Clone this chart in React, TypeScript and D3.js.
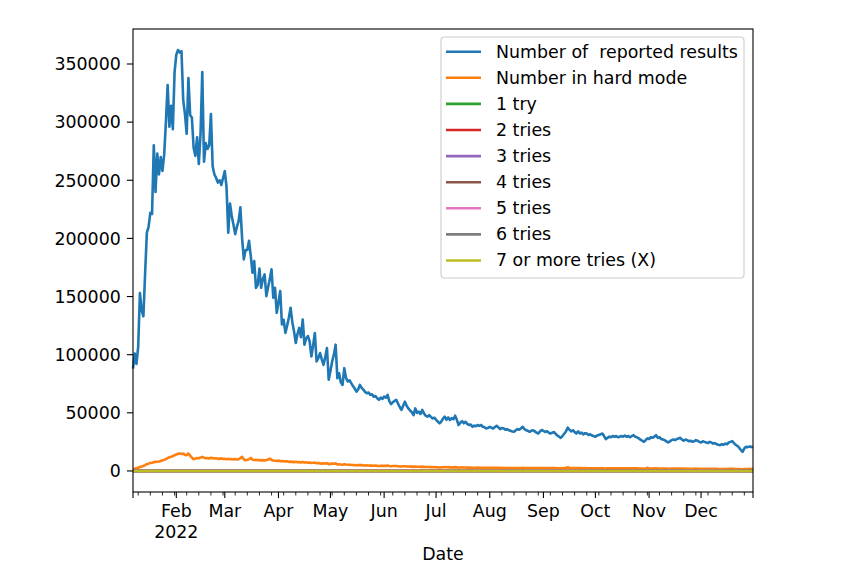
import * as d3 from "d3";
import { useEffect, useRef } from "react";

// daily series from 2022-01-07 to 2022-12-31
const firstDay = "2022-01-07";
const lastDay = "2022-12-31";

const reported = [
  88000, 101000, 92000, 107000, 153000, 138000, 133000, 170000, 205000, 210000,
  222000, 221000, 280000, 240000, 273000, 255000, 270000, 258000, 272000, 300000,
  332000, 296000, 314000, 294000, 343000, 358000, 362000, 360000, 361000, 319000,
  307000, 290000, 338000, 306000, 304000, 278000, 271000, 287000, 264000, 290000,
  343000, 266000, 282000, 277000, 280000, 307000, 262000, 255000, 252000, 248000,
  250000, 246000, 252000, 258000, 244000, 205000, 230000, 219500, 212000, 203700,
  210000, 215000, 226700, 200000, 182000, 190000, 190000, 198000, 185000, 170500,
  180600, 157500, 160000, 174000, 157500, 165000, 169000, 150400, 158000, 165000,
  173400, 149000, 157500, 136000, 145000, 154700, 126000, 130000, 118700, 125000,
  132000, 140300, 128000, 120000, 110000, 118000, 123000, 115000, 130200, 108600,
  114000, 116000, 111500, 98500, 108000, 118700, 94200, 97000, 101400, 96000,
  91300, 98000, 105700, 78400, 86000, 94200, 100000, 108600, 79800, 84000,
  76000, 74000, 88400, 80000, 76900, 78000, 75500, 73000, 71000, 68300,
  70000, 74000, 71500, 70000, 68000, 66800, 67500, 65500, 66000, 63900,
  64500, 62500, 61100, 63000, 62000, 64000, 63000, 65400, 60000, 57500,
  59000, 60200, 61100, 58000, 55000, 52500, 56000, 59600, 56000, 53800,
  52000, 50500, 48100, 53800, 50000, 51000, 49000, 52500, 49500, 47500,
  46700, 48000, 46500, 45200, 45800, 44000, 42500, 40900, 42500, 45000,
  46700, 44000, 46000, 43800, 45500, 44500, 47500, 44000, 39500, 41500,
  42800, 41000, 42300, 40500, 39500, 40000, 38000, 39000, 38500, 39500,
  38800, 39500, 38000, 37500, 36600, 37000, 38000, 37200, 36500, 37800,
  38900, 37500, 36000, 37000, 36600, 35500, 36000, 35000, 34500, 34000,
  33700, 35000, 36000, 35500, 36500, 38000, 36000, 35000, 34500, 33700,
  34500, 35000, 34000, 33000, 32200, 34000, 35200, 34500, 33500, 34200,
  33000, 32200, 32800, 33500, 32000, 30500, 29500, 28500, 30000, 32000,
  34000, 37200, 35500, 34000, 35000, 33500, 32200, 34000, 32200, 33000,
  31500, 32500, 32200, 31000, 31500, 30500, 30000, 29400, 30500, 31000,
  31500, 32200, 30000, 27400, 28500, 29500, 29000, 30000, 29500, 30000,
  29000, 29400, 30000, 29500, 30500, 29500, 30000, 29000, 30000, 30800,
  29500, 29000, 28000, 27000, 26000, 25100, 26500, 28000, 27500, 29000,
  28500, 29500, 30800, 28500, 29000, 27500, 27000, 26500, 25500, 24500,
  25500, 26500, 27000, 26500, 27500, 28000, 28500, 27000, 26000, 27000,
  26500, 25500, 26000, 25100, 25500, 26500, 26000, 25000, 24500, 25500,
  25000, 24500, 24000, 25000, 24500, 23500, 24000, 23000, 22500, 22200,
  23000, 22500, 23500, 23000, 24500, 25000, 25700, 24000, 22500, 21500,
  20000, 18000, 16400, 19500, 20700, 20500, 21000, 20700, 20400,
];

const hardMode = [
  1400, 1900, 2300, 2700, 3500, 3800, 4300, 5000, 5800, 6300,
  6800, 7000, 7600, 7800, 7900, 8200, 8600, 9200, 9500, 10200,
  11000, 11800, 12100, 12800, 13500, 14100, 14700, 15000, 14600, 15000,
  13800, 13600, 15000, 13200, 11500, 10100, 10600, 11200, 11000, 11500,
  12100, 11400, 11000, 11200, 10800, 11300, 11200, 10700, 10900, 10400,
  10600, 10800, 10300, 10500, 10100, 10400, 10000, 10300, 9900, 10200,
  9800, 10100, 11000, 12100, 10000, 9200, 9600, 10000, 11200, 9700,
  9400, 9600, 9200, 9500, 9100, 9300, 9000, 9400, 9800, 10600,
  9500, 9000, 8800, 8600, 8900, 8400, 8500, 8300, 8100, 8400,
  7800, 8000, 7800, 7600, 7900, 7500, 7600, 7300, 7700, 7200,
  7400, 7100, 7300, 6900, 7000, 7200, 6600, 6800, 6500, 6300,
  6600, 6400, 6700, 5800, 6100, 6300, 6200, 6500, 5600, 5800,
  5500, 5400, 5800, 5500, 5300, 5400, 5200, 5100, 5000, 4900,
  5000, 5100, 5000, 4800, 4700, 4800, 4700, 4600, 4700, 4500,
  4600, 4400, 4300, 4500, 4400, 4500, 4400, 4600, 4200, 4100,
  4200, 4200, 4300, 4100, 3900, 3800, 4000, 4100, 3900, 3800,
  3700, 3700, 3500, 3800, 3600, 3600, 3500, 3700, 3500, 3400,
  3400, 3400, 3300, 3200, 3300, 3200, 3100, 3000, 3100, 3200,
  3300, 3200, 3300, 3100, 3200, 3100, 3300, 3100, 2900, 3000,
  3100, 3000, 3000, 2900, 2900, 2900, 2800, 2800, 2800, 2900,
  2800, 2800, 2700, 2700, 2700, 2700, 2800, 2700, 2700, 2700,
  2800, 2700, 2600, 2700, 2600, 2600, 2600, 2500, 2500, 2500,
  2500, 2600, 2600, 2600, 2600, 2700, 2600, 2600, 2500, 2500,
  2500, 2500, 2500, 2400, 2400, 2500, 2500, 2500, 2400, 2500,
  2400, 2400, 2400, 2400, 2400, 2300, 2200, 2200, 2300, 2400,
  2500, 3200, 2600, 2500, 2500, 2400, 2400, 2500, 2400, 2400,
  2300, 2400, 2300, 2300, 2300, 2300, 2200, 2200, 2300, 2300,
  2300, 2400, 2200, 2100, 2200, 2200, 2200, 2200, 2200, 2200,
  2200, 2200, 2200, 2200, 2300, 2200, 2200, 2200, 2300, 2300,
  2200, 2200, 2100, 2100, 2000, 1900, 2000, 2700, 2100, 2100,
  2100, 2200, 2200, 2100, 2100, 2100, 2000, 2000, 2000, 1900,
  1900, 2000, 2000, 2000, 2000, 2100, 2100, 2000, 1900, 2000,
  1900, 1900, 1900, 1900, 1900, 2000, 1900, 1900, 1900, 1900,
  1900, 1900, 1800, 1900, 1800, 1800, 1800, 1800, 1700, 1700,
  1700, 1700, 1800, 1700, 1800, 1900, 1900, 1800, 1700, 1700,
  1600, 1500, 1400, 1600, 1700, 1700, 1800, 1700, 1900,
];

// the "tries" columns are percentages, they sit on the zero line
const tryDates = [
  "2022-01-07", "2022-02-01", "2022-03-01", "2022-04-01", "2022-05-01", "2022-06-01", "2022-07-01",
  "2022-08-01", "2022-09-01", "2022-10-01", "2022-11-01", "2022-12-01", "2022-12-31",
];
const try1 = [1, 1, 0, 0, 1, 0, 0, 0, 0, 0, 0, 0, 0];
const try2 = [5, 4, 3, 6, 4, 3, 5, 4, 3, 4, 5, 3, 4];
const try3 = [23, 20, 18, 25, 22, 17, 21, 24, 19, 22, 26, 20, 21];
const try4 = [39, 35, 34, 36, 38, 33, 35, 37, 34, 33, 37, 35, 36];
const try5 = [24, 25, 27, 21, 23, 28, 24, 23, 27, 25, 22, 26, 25];
const try6 = [7, 12, 14, 9, 10, 15, 12, 10, 13, 12, 8, 12, 10];
const try7 = [1, 3, 4, 2, 2, 4, 3, 2, 3, 3, 1, 3, 2];

const seriesNames = [
  "Number of  reported results",
  "Number in hard mode",
  "1 try",
  "2 tries",
  "3 tries",
  "4 tries",
  "5 tries",
  "6 tries",
  "7 or more tries (X)",
];
const colors = ["#1f77b4", "#ff7f0e", "#2ca02c", "#d62728", "#9467bd", "#8c564b", "#e377c2", "#7f7f7f", "#bcbd22"];
const yTicks = [0, 50000, 100000, 150000, 200000, 250000, 300000, 350000];

const W = 857, H = 585;
const L = 133, R = 753, T = 29, B = 492;
const FONT = "DejaVu Sans, sans-serif";
const FS = 17.4;

function App() {
  const ref = useRef<SVGSVGElement>(null);

  useEffect(() => {
    const svg = d3.select(ref.current);
    svg.selectAll("*").remove();

    const parse = d3.utcParse("%Y-%m-%d");
    const start = parse(firstDay)!;
    const end = parse(lastDay)!;
    const days = d3.utcDay.range(start, d3.utcDay.offset(end, 1));

    const daily = [reported, hardMode].map((vals) => vals.map((v, i) => ({ d: days[i], v })));
    const tryD = tryDates.map((s) => parse(s)!);
    const tries = [try1, try2, try3, try4, try5, try6, try7].map((vals) => vals.map((v, i) => ({ d: tryD[i], v })));
    const all = [...daily, ...tries];

    const allVals = all.flat().map((p) => p.v);
    const lo = d3.min(allVals)!, hi = d3.max(allVals)!;
    const pad = (hi - lo) * 0.05;

    const x = d3.scaleUtc().domain([start, end]).range([L, R]);
    const y = d3.scaleLinear().domain([lo - pad, hi + pad]).range([B, T]);

    const line = d3.line<{ d: Date; v: number }>().x((p) => x(p.d)).y((p) => y(p.v));

    const g = svg.append("g");
    all.forEach((s, i) => {
      g.append("path")
        .attr("d", line(s))
        .attr("fill", "none")
        .attr("stroke", colors[i])
        .attr("stroke-width", 2.6)
        .attr("stroke-linejoin", "round");
    });

    // spines
    svg.append("rect")
      .attr("x", L).attr("y", T).attr("width", R - L).attr("height", B - T)
      .attr("fill", "none").attr("stroke", "black").attr("stroke-width", 1.1);

    // y axis
    yTicks.forEach((t) => {
      svg.append("line").attr("x1", L - 6.1).attr("x2", L).attr("y1", y(t)).attr("y2", y(t))
        .attr("stroke", "black").attr("stroke-width", 1.1);
      svg.append("text").attr("x", L - 12.2).attr("y", y(t) + 6.3)
        .attr("text-anchor", "end").attr("font-family", FONT).attr("font-size", FS)
        .text(String(t));
    });

    // x axis: months major, mondays minor, ends get a major tick too
    const months = d3.utcMonth.range(d3.utcMonth.ceil(start), d3.utcDay.offset(end, 1));
    const mondays = d3.utcMonday.range(start, d3.utcDay.offset(end, 1)).filter((d) => d.getUTCDate() !== 1);

    mondays.forEach((d) => {
      svg.append("line").attr("x1", x(d)).attr("x2", x(d)).attr("y1", B).attr("y2", B + 3.5)
        .attr("stroke", "black").attr("stroke-width", 0.85);
    });
    [start, ...months, end].forEach((d) => {
      svg.append("line").attr("x1", x(d)).attr("x2", x(d)).attr("y1", B).attr("y2", B + 6.1)
        .attr("stroke", "black").attr("stroke-width", 1.1);
    });
    const fmt = d3.utcFormat("%b");
    months.forEach((d, i) => {
      svg.append("text").attr("x", x(d)).attr("y", 516.5)
        .attr("text-anchor", "middle").attr("font-family", FONT).attr("font-size", FS)
        .text(fmt(d));
      if (i === 0) {
        svg.append("text").attr("x", x(d)).attr("y", 537.5)
          .attr("text-anchor", "middle").attr("font-family", FONT).attr("font-size", FS)
          .text(d3.utcFormat("%Y")(d));
      }
    });

    svg.append("text").attr("x", (L + R) / 2).attr("y", 559.5)
      .attr("text-anchor", "middle").attr("font-family", FONT).attr("font-size", FS)
      .text("Date");

    // legend
    const lg = svg.append("g");
    lg.append("rect").attr("x", 441).attr("y", 37).attr("width", 303).attr("height", 241)
      .attr("rx", 3.5).attr("fill", "white").attr("fill-opacity", 0.8)
      .attr("stroke", "#cccccc").attr("stroke-width", 1.1);
    seriesNames.forEach((name, i) => {
      const cy = 51.7 + i * 26.1;
      lg.append("line").attr("x1", 446).attr("x2", 481).attr("y1", cy).attr("y2", cy)
        .attr("stroke", colors[i]).attr("stroke-width", 2.6);
      lg.append("text").attr("x", 496).attr("y", cy + 5.8)
        .attr("font-family", FONT).attr("font-size", FS)
        .style("white-space", "pre")
        .text(name);
    });

    return () => {
      svg.selectAll("*").remove();
    };
  }, []);

  return (
    <div style={{ position: "absolute", left: 0, top: 0 }}>
      <svg ref={ref} width={W} height={H} style={{ display: "block", background: "white" }} />
    </div>
  );
}

export default App;
